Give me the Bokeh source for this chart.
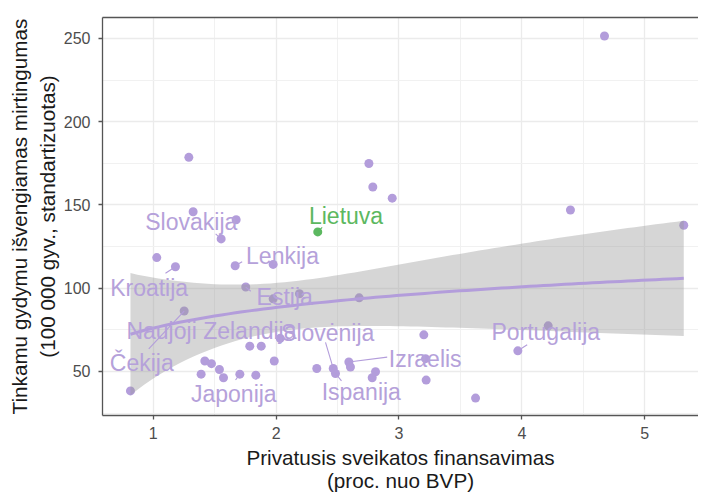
import numpy as np
from bokeh.plotting import figure
from bokeh.models import LinearAxis, Range1d, FixedTicker, ColumnDataSource
from bokeh.embed import file_html
from bokeh.resources import INLINE
from bokeh.core.properties import value

# ---- data ----
priv_x = [0.815, 1.029, 1.181, 1.252, 1.29, 1.325, 1.39, 1.42, 1.474, 1.539,
          1.553, 1.572, 1.667, 1.675, 1.705, 1.753, 1.786, 1.835, 1.879, 1.976,
          1.976, 1.985, 2.033, 2.19, 2.331, 2.465, 2.483, 2.592, 2.605, 2.676,
          2.755, 2.782, 2.787, 2.809, 2.945, 3.202, 3.216, 3.221, 3.623, 3.967,
          4.214, 4.395, 4.672, 5.317]
mort_y = [38.3, 118.4, 112.9, 86.3, 178.6, 145.9, 48.4, 56.3, 54.7, 51.2,
          129.6, 46.2, 113.5, 141.1, 48.4, 100.7, 65.2, 47.8, 65.2, 114.3,
          93.6, 56.3, 69.9, 96.7, 51.8, 51.8, 48.8, 55.7, 52.7, 94.2,
          174.9, 46.2, 160.8, 49.8, 154.1, 72.0, 57.7, 44.8, 34.0, 62.4,
          77.4, 147.0, 251.5, 137.8]
lt_x = [2.339]
lt_y = [133.8]

# labels (text, label centre, index of labelled point)
lab_text = ["Slovakija", "Lenkija", "Kroatija", "Estija", "Naujoji Zelandija",
            "Čekija", "Slovėnija", "Japonija", "Ispanija", "Izraelis", "Portugalija"]
lab_x = [1.31, 2.052, 0.967, 2.07, 1.474, 0.907, 2.42, 1.656, 2.693, 3.213, 4.194]
lab_y = [139.7, 119.3, 100.3, 94.7, 74.1, 55.2, 73.4, 36.2, 37.6, 57.4, 73.7]
# segment starts (label side) and the point index they lead to
seg_x0 = [1.508, 1.724, 1.10, 1.794, 0.964, 2.402, 2.532, 2.904, 1.670, 4.043]
seg_y0 = [132.6, 115.9, 109.0, 98.2, 63.6, 67.5, 44.3, 58.6, 44.9, 66.0]
seg_pt = [10, 12, 2, 15, 3, 25, 26, 27, 14, 39]
lt_lab_x = [2.569]
lt_lab_y = [143.5]
lt_seg_x0 = [2.375]
lt_seg_y0 = [136.6]

x_ticks = [1, 2, 3, 4, 5]
y_ticks = [50, 100, 150, 200, 250]

# ---- colours / styles ----
PURPLE = "#b39ddb"
PURPLE_TXT = "#b5a1da"
GREEN = "#5cb860"
FONT = "Liberation Sans"

# ---- linear fit y ~ log(x) with 95% band (as geom_smooth) ----
all_x = np.array(priv_x + lt_x)
all_y = np.array(mort_y + lt_y)
lx = np.log(all_x)
n = len(lx)
lxm = lx.mean()
sxx = ((lx - lxm) ** 2).sum()
b = ((lx - lxm) * (all_y - all_y.mean())).sum() / sxx
a = all_y.mean() - b * lxm
res = all_y - (a + b * lx)
s = np.sqrt((res ** 2).sum() / (n - 2))
tcrit = 2.0167
xg = np.linspace(all_x.min(), all_x.max(), 80)
lg = np.log(xg)
yg = a + b * lg
se = s * np.sqrt(1.0 / n + (lg - lxm) ** 2 / sxx)
lo = yg - tcrit * se
hi = yg + tcrit * se

# ---- figure ----
p = figure(width=698, height=494, output_backend="svg", toolbar_location=None,
           x_range=Range1d(0.5875, 5.437), y_range=Range1d(23.55, 262.6),
           min_border_left=102, min_border_right=0, min_border_top=17,
           min_border_bottom=77, background_fill_color="white",
           border_fill_color="white")
p.outline_line_color = None

p.xaxis.ticker = FixedTicker(ticks=x_ticks, minor_ticks=[0.5, 1.5, 2.5, 3.5, 4.5, 5.5])
p.yaxis.ticker = FixedTicker(ticks=y_ticks, minor_ticks=[25, 75, 125, 175, 225])
p.xgrid.grid_line_color = "#ebebeb"
p.ygrid.grid_line_color = "#ebebeb"
p.xgrid.grid_line_width = 1.3
p.ygrid.grid_line_width = 1.3
p.xgrid.minor_grid_line_color = "#f1f1f1"
p.ygrid.minor_grid_line_color = "#f1f1f1"
p.xgrid.minor_grid_line_width = 1.0
p.ygrid.minor_grid_line_width = 1.0

for ax in (p.xaxis[0], p.yaxis[0]):
    ax.axis_line_color = "#555555"
    ax.axis_line_width = 1.3
    ax.major_tick_line_color = "#555555"
    ax.major_tick_line_width = 1.3
    ax.major_tick_in = 0
    ax.major_tick_out = 4
    ax.minor_tick_line_color = None
    ax.major_label_text_font = FONT
    ax.major_label_text_font_size = "16px"
    ax.major_label_text_color = "#4d4d4d"
    ax.axis_label_text_font = FONT
    ax.axis_label_text_font_size = "20.7px"
    ax.axis_label_text_font_style = "normal"
    ax.axis_label_text_color = "#1a1a1a"

p.yaxis.major_label_standoff = 8
p.yaxis.axis_label_standoff = 2
p.yaxis.axis_label_text_line_height = 1.2
p.xaxis.major_label_standoff = 7
p.xaxis.axis_label_standoff = 4
p.xaxis.axis_label_text_line_height = 1.0
p.yaxis.axis_label = "Tinkamu gydymu išvengiamas mirtingumas\n(100 000 gyv., standartizuotas)"
p.xaxis.axis_label = "Privatusis sveikatos finansavimas\n(proc. nuo BVP)"

top = LinearAxis(ticker=FixedTicker(ticks=[]), axis_line_color="#555555",
                 axis_line_width=1.3, major_tick_line_color=None,
                 minor_tick_line_color=None, major_label_text_font_size="0px",
                 major_tick_out=0, major_tick_in=0, major_label_standoff=0)
p.add_layout(top, "above")

# points
p.scatter(priv_x, mort_y, size=9, color=PURPLE, line_color=None)
p.scatter(lt_x, lt_y, size=9, color=GREEN, line_color=None)

# smooth band + line
p.varea(x=xg, y1=lo, y2=hi, fill_color="#999999", fill_alpha=0.4)
p.line(xg, yg, line_color=PURPLE, line_width=3)

# label segments
px_arr = np.array(priv_x)
py_arr = np.array(mort_y)
p.segment(x0=seg_x0, y0=seg_y0, x1=px_arr[seg_pt], y1=py_arr[seg_pt],
          line_color=PURPLE, line_width=1.1)
p.segment(x0=lt_seg_x0, y0=lt_seg_y0, x1=lt_x, y1=lt_y,
          line_color=GREEN, line_width=1.1)

# labels
src = ColumnDataSource(dict(x=lab_x, y=lab_y, t=lab_text))
p.text(x="x", y="y", text="t", source=src, text_font=value(FONT),
       text_font_size="23px", text_align="center", text_baseline="middle",
       text_color=PURPLE_TXT)
p.text(x=lt_lab_x, y=lt_lab_y, text=["Lietuva"], text_font=value(FONT),
       text_font_size="23px", text_align="center", text_baseline="middle",
       text_color=GREEN)

open("out.html", "w").write(file_html(p, INLINE))
